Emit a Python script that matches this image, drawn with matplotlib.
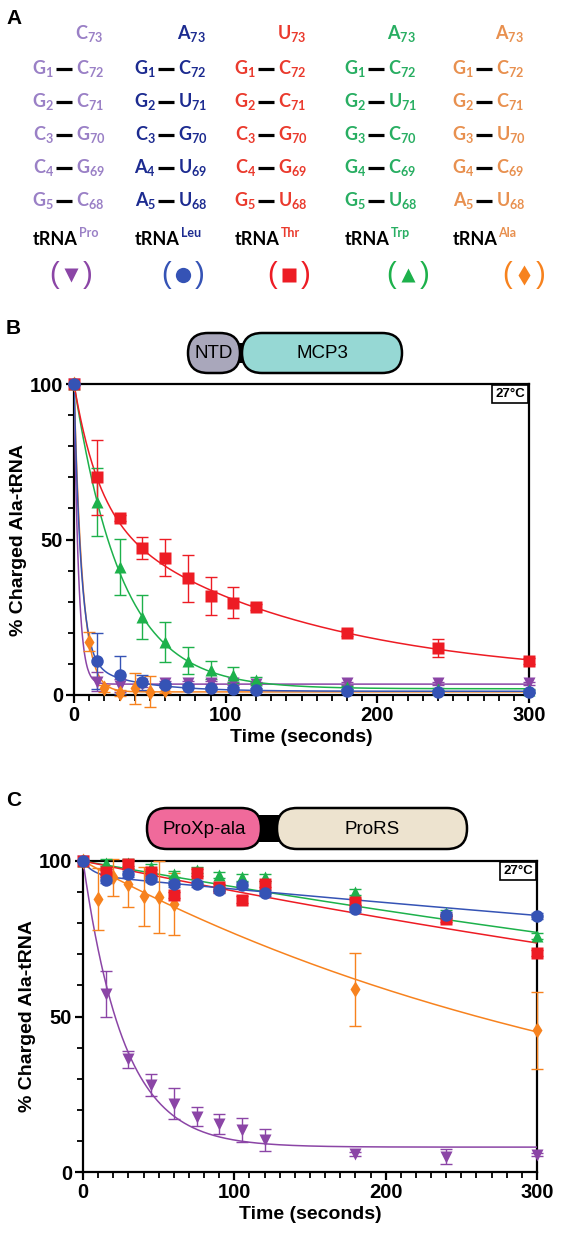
import numpy as np
import matplotlib.pyplot as plt
from matplotlib.patches import FancyBboxPatch, Rectangle
from matplotlib.ticker import MultipleLocator

plt.rcParams['font.family'] = ['Liberation Sans', 'DejaVu Sans']
plt.rcParams['mathtext.fontset'] = 'custom'
plt.rcParams['mathtext.rm'] = 'Lato:bold'
plt.rcParams['mathtext.bf'] = 'Lato:bold'
plt.rcParams['mathtext.it'] = 'Lato:bold'

# ---- panel A: acceptor stems ----
trna_names = ['Pro', 'Leu', 'Thr', 'Trp', 'Ala']
base_73 = ['C73', 'A73', 'U73', 'A73', 'A73']
stem_pro = ['G1:C72', 'G2:C71', 'C3:G70', 'C4:G69', 'G5:C68']
stem_leu = ['G1:C72', 'G2:U71', 'C3:G70', 'A4:U69', 'A5:U68']
stem_thr = ['G1:C72', 'G2:C71', 'C3:G70', 'C4:G69', 'G5:U68']
stem_trp = ['G1:C72', 'G2:U71', 'G3:C70', 'G4:C69', 'G5:U68']
stem_ala = ['G1:C72', 'G2:C71', 'G3:U70', 'G4:C69', 'A5:U68']
stems = [stem_pro, stem_leu, stem_thr, stem_trp, stem_ala]

text_colors = ['#9a80c6', '#1c2b90', '#ea3a2d', '#28ae62', '#e8904f']
colors = ['#8b45a6', '#3553b5', '#ed1c24', '#1db14b', '#f7821e']
markers = ['v', 'o', 's', '^', 'd']
msizes = [8.5, 9, 8, 8.5, 8.5]

# ---- kinetics data (time in seconds, % charged Ala-tRNA) ----
t_std = [0, 15, 30, 45, 60, 75, 90, 105, 120, 180, 240, 300]
t_ala_b = [0, 10, 20, 30, 40, 50, 60]
t_ala_c = [0, 10, 20, 30, 40, 50, 60, 180, 300]

# panel B: MCP3
b_pro = [100, 4.3, 3.0, 3.5, 4.0, 3.9, 4.0, 3.7, 3.6, 3.8, 3.8, 3.8]
b_pro_err = [0, 3, 2, 1, 0.5, 0.5, 0.5, 0.5, 0.5, 0.5, 0.5, 0.5]
b_leu = [100, 11, 6.4, 4.1, 3.2, 2.7, 2.2, 2.0, 1.6, 1.3, 1.0, 1.0]
b_leu_err = [0, 9, 6, 2.4, 0.5, 0.5, 0.5, 0.5, 0.5, 0.5, 0.5, 0.5]
b_thr = [100, 70, 57, 47.2, 44.2, 37.5, 31.8, 29.7, 28.2, 19.9, 15.1, 10.9]
b_thr_err = [0, 12, 1, 3.6, 6, 7.5, 6, 5, 1, 1, 3, 1]
b_trp = [100, 62, 41.3, 25, 17.1, 11, 8, 6.4, 4.8, 2.5, 1.8, 1.5]
b_trp_err = [0, 11, 9, 7, 6.5, 4.3, 3, 2.6, 1, 0.5, 0.5, 0.5]
b_ala = [100, 17.2, 2.1, 0.6, 2.1, 1.0, 1.5]
b_ala_err = [0, 3, 1, 1, 5, 5, 1]

# panel C: ProXp-ala-ProRS
c_pro = [100, 57.3, 36.2, 28, 21.9, 17.8, 15.4, 13.5, 10.3, 5.8, 4.9, 5.5]
c_pro_err = [0, 7.3, 2.6, 3.5, 5, 3, 3.2, 3.9, 3.6, 0.5, 2.4, 0.5]
c_leu = [100, 94, 95.9, 94.3, 92.5, 92.5, 90.8, 92.2, 89.7, 84.7, 82.6, 82.3]
c_leu_err = [0, 1, 1, 1, 1, 1, 1, 1, 1, 1, 1, 1]
c_thr = [100, 96.5, 98.9, 96.5, 89, 96.3, 91.5, 87.6, 92.5, 86.9, 81.3, 70.3]
c_thr_err = [0, 1, 1, 1, 1, 1, 1, 1, 1, 1, 1, 1]
c_trp = [100, 99.5, 99.5, 98, 95.9, 97, 95.4, 94.7, 94.7, 90, 83.3, 76]
c_trp_err = [0, 1, 1, 1, 1, 1, 1, 1, 1, 1, 1, 1]
c_ala = [100, 87.9, 94.7, 92.7, 88.7, 88.5, 86.1, 58.8, 45.5]
c_ala_err = [0, 10, 5.8, 7.5, 9.5, 11.5, 10, 11.7, 12.3]

# decay fits: [span_fast, k_fast, span_slow, k_slow, plateau]
b_fits = [[96.5, 0.33, 0, 0, 3.5],
          [88.8, 0.218, 10, 0.03, 1.2],
          [40.4, 0.0617, 54.6, 0.0072, 5],
          [98, 0.032, 0, 0, 2],
          [99, 0.18, 0, 0, 1]]
c_fits = [[92, 0.037, 0, 0, 8],
          [4.5, 0.15, 95.5, 0.000488, 0],
          [100, 0.00102, 0, 0, 0],
          [100, 0.00087, 0, 0, 0],
          [100, 0.00266, 0, 0, 0]]


def decay(t, fit):
    a1, k1, a2, k2, plateau = fit
    return a1 * np.exp(-k1 * t) + a2 * np.exp(-k2 * t) + plateau


def split_nt(s):
    return s[0], s[1:]


fig = plt.figure(figsize=(5.63, 12.41), dpi=100)
fig.patch.set_facecolor('white')

# overlay in pixel units for panel A and the domain cartoons
ov = fig.add_axes([0, 0, 1, 1])
ov.set_xlim(0, 563)
ov.set_ylim(1241, 0)
ov.axis('off')

dash_x = [64, 166, 266, 376, 484]
row_y = [74, 107, 140, 173, 206]
sym_x = [71, 183, 289, 408, 524]

ov.text(6, 24, 'A', fontsize=15, fontweight='bold', ha='left', va='baseline')
ov.text(6, 334, 'B', fontsize=15, fontweight='bold', ha='left', va='baseline')
ov.text(6, 806, 'C', fontsize=15, fontweight='bold', ha='left', va='baseline')

for i in range(5):
    d = dash_x[i]
    col = text_colors[i]
    b, n = split_nt(base_73[i])
    ov.text(d + 11, 39, r'$\mathrm{%s}_{\mathrm{%s}}$' % (b, n), fontsize=13,
            color=col, ha='left', va='baseline')
    for j, pair in enumerate(stems[i]):
        left, right = pair.split(':')
        lb, ln = split_nt(left)
        rb, rn = split_nt(right)
        y = row_y[j]
        ov.text(d - 10, y, r'$\mathrm{%s}_{\mathrm{%s}}$' % (lb, ln), fontsize=13,
                color=col, ha='right', va='baseline')
        ov.plot([d - 8, d + 8], [y - 5, y - 5], color='black', lw=2.3,
                solid_capstyle='butt')
        ov.text(d + 12, y, r'$\mathrm{%s}_{\mathrm{%s}}$' % (rb, rn), fontsize=13,
                color=col, ha='left', va='baseline')
    # tRNA label
    ov.text(d + 14, 245, 'tRNA', fontsize=13, color='black', family='Lato',
            fontweight='bold', ha='right', va='baseline')
    ov.text(d + 14.5, 237, trna_names[i], fontsize=9, color=col, family='Lato',
            fontweight='bold', ha='left', va='baseline')
    # symbol key
    sx = sym_x[i]
    ov.text(sx - 17, 275, '(', fontsize=21, color=colors[i], ha='center',
            va='center')
    ov.text(sx + 17, 275, ')', fontsize=21, color=colors[i], ha='center',
            va='center')
    ov.plot(sx, 275, marker=markers[i], ms=msizes[i] + 2, color=colors[i],
            mec='none')

# B cartoon: NTD - MCP3
ov.add_patch(Rectangle((232, 343), 16, 20, fc='black', ec='none'))
ov.add_patch(FancyBboxPatch((188, 333), 52, 40,
                            boxstyle='round,pad=0,rounding_size=20',
                            fc='#a9a7bb', ec='black', lw=1.8))
ov.add_patch(FancyBboxPatch((242, 333), 160, 40,
                            boxstyle='round,pad=0,rounding_size=20',
                            fc='#96d8d4', ec='black', lw=1.8))
ov.text(214, 354, 'NTD', fontsize=13.5, ha='center', va='center')
ov.text(322, 354, 'MCP3', fontsize=13.5, ha='center', va='center')

# C cartoon: ProXp-ala - ProRS
ov.add_patch(Rectangle((255, 815), 26, 27, fc='black', ec='none'))
ov.add_patch(FancyBboxPatch((147, 808), 114, 41,
                            boxstyle='round,pad=0,rounding_size=20',
                            fc='#f06a9b', ec='black', lw=1.8))
ov.add_patch(FancyBboxPatch((277, 808), 190, 41,
                            boxstyle='round,pad=0,rounding_size=20',
                            fc='#ede3cf', ec='black', lw=1.8))
ov.text(204, 829, 'ProXp-ala', fontsize=13.5, ha='center', va='center')
ov.text(372, 829, 'ProRS', fontsize=13.5, ha='center', va='center')


def kinetics_axes(ax, times, values, errs, fits):
    tt = np.linspace(0, 300, 601)
    order = [0, 4, 3, 2, 1]
    for i in order:
        t = times[i]
        ax.plot(tt, decay(tt, fits[i]), color=colors[i], lw=1.1, zorder=3)
        ax.errorbar(t, values[i], yerr=errs[i], fmt='none', ecolor=colors[i],
                    elinewidth=1, capsize=4.5, capthick=1, zorder=4,
                    clip_on=False)
        ax.plot(t, values[i], ls='none', marker=markers[i], ms=msizes[i],
                color=colors[i], mec='none', zorder=5, clip_on=False)
    ax.set_xlim(0, 300)
    ax.set_ylim(0, 100)
    ax.xaxis.set_major_locator(MultipleLocator(100))
    ax.xaxis.set_minor_locator(MultipleLocator(10))
    ax.yaxis.set_major_locator(MultipleLocator(50))
    ax.yaxis.set_minor_locator(MultipleLocator(10))
    for s in ax.spines.values():
        s.set_linewidth(1.6)
    ax.tick_params(which='major', direction='out', length=6, width=1.6,
                   labelsize=14.5, pad=2)
    ax.tick_params(which='minor', direction='out', length=4, width=1.3)
    for lab in ax.get_xticklabels() + ax.get_yticklabels():
        lab.set_fontweight('bold')
    ax.set_xlabel('Time (seconds)', fontsize=14, fontweight='bold', labelpad=3)
    ax.set_ylabel('% Charged Ala-tRNA', fontsize=14, fontweight='bold',
                  labelpad=2)
    ax.text(0.991, 0.987, '27°C', transform=ax.transAxes, ha='right',
            va='top', fontsize=9.5, fontweight='bold', zorder=6,
            bbox=dict(boxstyle='square,pad=0.25', fc='white', ec='black',
                      lw=1.2))


axB = fig.add_axes([74 / 563, 1 - 695 / 1241, 455 / 563, 311 / 1241])
kinetics_axes(axB,
              [t_std, t_std, t_std, t_std, t_ala_b],
              [b_pro, b_leu, b_thr, b_trp, b_ala],
              [b_pro_err, b_leu_err, b_thr_err, b_trp_err, b_ala_err],
              b_fits)

axC = fig.add_axes([83 / 563, 1 - 1172 / 1241, 454 / 563, 311 / 1241])
kinetics_axes(axC,
              [t_std, t_std, t_std, t_std, t_ala_c],
              [c_pro, c_leu, c_thr, c_trp, c_ala],
              [c_pro_err, c_leu_err, c_thr_err, c_trp_err, c_ala_err],
              c_fits)

plt.savefig('out.png', dpi=100)
plt.close()
